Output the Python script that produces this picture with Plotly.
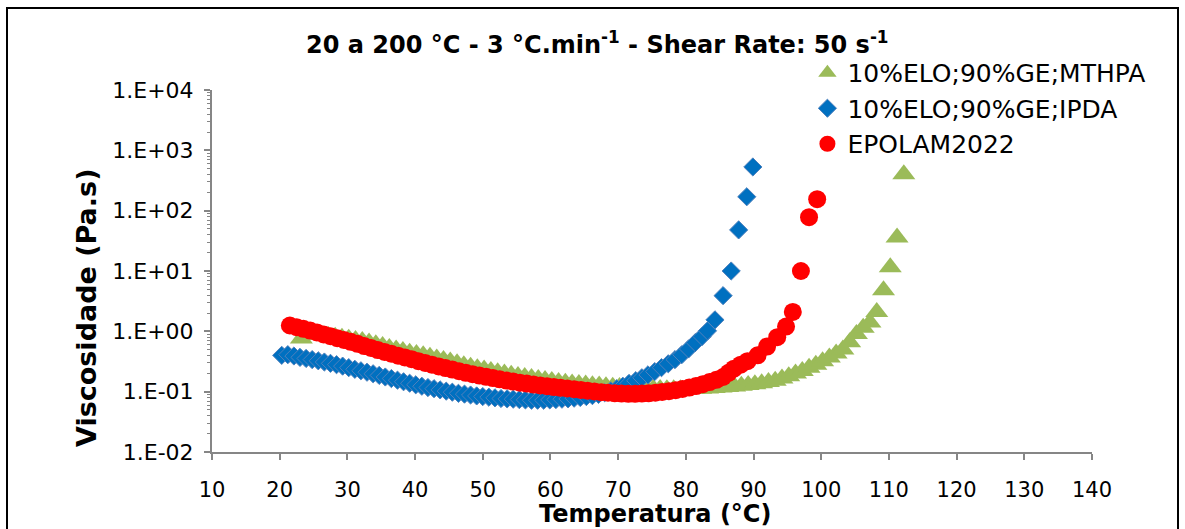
import plotly.graph_objects as go

# ---------------- data ----------------
mthpa_T = [23.2, 23.7, 24.2, 25.2, 26.2, 27.2, 28.2, 29.2, 30.2, 31.2, 32.2, 33.2, 34.2, 35.2,
           36.2, 37.2, 38.2, 39.2, 40.2, 41.2, 42.2, 43.2, 44.2, 45.2, 46.2, 47.2, 48.2, 49.2,
           50.2, 51.2, 52.2, 53.2, 54.2, 55.2, 56.2, 57.2, 58.2, 59.2, 60.2, 61.2, 62.2, 63.2,
           64.2, 65.2, 66.2, 67.2, 68.2, 69.2, 70.2, 71.2, 72.2, 73.2, 74.2, 75.2, 76.2, 77.2,
           78.2, 79.2, 80.2, 81.2, 82.2, 83.2, 84.2, 85.2, 86.2, 87.2, 88.2, 89.2, 90.2, 91.2,
           92.2, 93.2, 94.2, 95.2, 96.2, 97.2, 98.2, 99.2, 100.2, 101.2, 102.2, 103.2, 104.2,
           105.2, 106.2, 107.2, 108.2, 109.2, 110.2, 111.2, 112.2]
mthpa_V = [0.76, 0.88, 0.93, 0.90, 0.87, 0.84, 0.81, 0.78, 0.75, 0.72, 0.69, 0.65, 0.61, 0.57,
           0.53, 0.50, 0.47, 0.44, 0.42, 0.40, 0.38, 0.355, 0.335, 0.315, 0.295, 0.275, 0.26, 0.245,
           0.232, 0.22, 0.21, 0.20, 0.19, 0.182, 0.175, 0.168, 0.162, 0.156, 0.15, 0.145, 0.141, 0.137,
           0.134, 0.131, 0.128, 0.126, 0.123, 0.121, 0.119, 0.117, 0.115, 0.114, 0.113, 0.112, 0.111, 0.110,
           0.110, 0.110, 0.111, 0.111, 0.112, 0.113, 0.115, 0.117, 0.119, 0.122, 0.125, 0.129, 0.133, 0.138,
           0.144, 0.152, 0.165, 0.18, 0.20, 0.22, 0.25, 0.28, 0.32, 0.37, 0.43, 0.50, 0.66,
           0.90, 1.15, 1.4, 2.1, 4.8, 11.5, 36, 400]

ipda_T = [20.3, 21.2, 22.1, 23.0, 23.9, 24.8, 25.7, 26.6, 27.5, 28.4, 29.3, 30.2, 31.1, 32.0,
          32.9, 33.8, 34.7, 35.6, 36.5, 37.4, 38.3, 39.2, 40.1, 41.0, 41.9, 42.8, 43.7, 44.6,
          45.5, 46.4, 47.3, 48.2, 49.1, 50.0, 50.9, 51.8, 52.7, 53.6, 54.5, 55.4, 56.3, 57.2,
          58.1, 59.0, 59.9, 60.8, 61.7, 62.6, 63.5, 64.4, 65.3, 66.2, 67.1, 68.0, 68.9, 69.8,
          70.7, 71.6, 72.6, 73.5, 74.4, 75.4, 76.4, 77.4, 78.4, 79.4, 80.4, 81.4, 82.4, 83.2,
          84.3, 85.5, 86.7, 87.8, 89.0, 89.9]
ipda_V = [0.40, 0.41, 0.39, 0.37, 0.355, 0.34, 0.325, 0.31, 0.295, 0.28, 0.265, 0.25, 0.235, 0.222,
          0.21, 0.198, 0.186, 0.175, 0.165, 0.155, 0.146, 0.138, 0.130, 0.123, 0.117, 0.112, 0.107, 0.102,
          0.098, 0.094, 0.091, 0.088, 0.085, 0.083, 0.081, 0.079, 0.077, 0.076, 0.075, 0.074, 0.073, 0.072,
          0.072, 0.072, 0.073, 0.074, 0.075, 0.076, 0.078, 0.080, 0.083, 0.086, 0.090, 0.096, 0.103, 0.112,
          0.123, 0.137, 0.152, 0.17, 0.19, 0.215, 0.25, 0.29, 0.34, 0.41, 0.51, 0.65, 0.82, 1.02,
          1.55, 3.9, 10, 48, 170, 530]

epolam_T = [21.5, 22.5, 23.5, 24.5, 25.5, 26.5, 27.5, 28.5, 29.5, 30.5, 31.5, 32.5, 33.5, 34.5,
            35.5, 36.5, 37.5, 38.5, 39.5, 40.5, 41.5, 42.5, 43.5, 44.5, 45.5, 46.5, 47.5, 48.5,
            49.5, 50.5, 51.5, 52.5, 53.5, 54.5, 55.5, 56.5, 57.5, 58.5, 59.5, 60.5, 61.5, 62.5,
            63.5, 64.5, 65.5, 66.5, 67.5, 68.5, 69.5, 70.5, 71.5, 72.5, 73.5, 74.5, 75.5, 76.5,
            77.5, 78.5, 79.5, 80.5, 81.5, 82.5, 83.5, 84.5, 85.5, 86.3, 87.1, 88.1, 89.1, 90.6,
            92.0, 93.5, 94.8, 95.8, 97.0, 98.2, 99.4]
epolam_V = [1.25, 1.17, 1.10, 1.03, 0.96, 0.89, 0.83, 0.77, 0.72, 0.67, 0.62, 0.57, 0.53, 0.49,
            0.455, 0.425, 0.395, 0.37, 0.345, 0.32, 0.30, 0.28, 0.262, 0.246, 0.232, 0.218, 0.205, 0.195,
            0.185, 0.176, 0.168, 0.16, 0.153, 0.147, 0.141, 0.136, 0.131, 0.127, 0.123, 0.119, 0.116, 0.113,
            0.110, 0.107, 0.104, 0.101, 0.098, 0.096, 0.094, 0.093, 0.092, 0.092, 0.093, 0.094, 0.096, 0.099,
            0.102, 0.106, 0.111, 0.117, 0.124, 0.133, 0.144, 0.157, 0.175, 0.205, 0.24, 0.28, 0.32, 0.40,
            0.56, 0.80, 1.2, 2.1, 10, 78, 155]

y_tickvals = [1e-2, 1e-1, 1e0, 1e1, 1e2, 1e3, 1e4]
y_ticktext = ["1.E-02", "1.E-01", "1.E+00", "1.E+01", "1.E+02", "1.E+03", "1.E+04"]
x_tickvals = [10, 20, 30, 40, 50, 60, 70, 80, 90, 100, 110, 120, 130, 140]

FONT = "DejaVu Sans"
AXIS_GRAY = "#868686"

fig = go.Figure()
fig.add_trace(go.Scatter(
    x=mthpa_T, y=mthpa_V, mode="markers", name="10%ELO;90%GE;MTHPA",
    marker=dict(symbol="triangle-up", size=20, color="#9BBB59", line=dict(width=0))))
fig.add_trace(go.Scatter(
    x=ipda_T, y=ipda_V, mode="markers", name="10%ELO;90%GE;IPDA",
    marker=dict(symbol="diamond", size=14, color="#0070C0", line=dict(width=1, color="#4F81BD"))))
fig.add_trace(go.Scatter(
    x=epolam_T, y=epolam_V, mode="markers", name="EPOLAM2022",
    marker=dict(symbol="circle", size=18, color="#FF0000", line=dict(width=0))))

fig.update_layout(
    width=1185, height=529,
    margin=dict(l=212, r=93, t=90, b=77),
    paper_bgcolor="white", plot_bgcolor="white",
    font=dict(family=FONT, color="black"),
    title=dict(text="20 a 200 °C - 3 °C.min<sup>-1</sup> - Shear Rate: 50 s<sup>-1</sup>",
               x=0.504, xanchor="center", y=0.915, yanchor="middle",
               font=dict(family=FONT, size=24, color="black", weight="bold")),
    showlegend=True,
    legend=dict(x=0.6766, xanchor="left", y=1.1105, yanchor="top",
                font=dict(family=FONT, size=25, color="black"),
                bgcolor="rgba(0,0,0,0)", tracegroupgap=0, itemwidth=30),
    xaxis=dict(range=[10, 140], tickmode="array", tickvals=x_tickvals,
               ticks="outside", ticklen=6, tickcolor=AXIS_GRAY, tickwidth=1.5,
               showline=True, linecolor=AXIS_GRAY, linewidth=2,
               showgrid=False, zeroline=False,
               tickfont=dict(family=FONT, size=21, color="black"),
               ticklabelstandoff=12),
    yaxis=dict(type="log", range=[-2, 4], tickmode="array",
               tickvals=y_tickvals, ticktext=y_ticktext,
               ticks="outside", ticklen=6, tickcolor=AXIS_GRAY, tickwidth=1.5,
               showline=True, linecolor=AXIS_GRAY, linewidth=2,
               showgrid=False, zeroline=False,
               minor=dict(dtick="D1", ticks="outside", ticklen=3,
                          tickcolor=AXIS_GRAY, tickwidth=1, showgrid=False),
               tickfont=dict(family=FONT, size=22, color="black"),
               ticklabelstandoff=6),
)

# axis titles
fig.add_annotation(text="<b>Temperatura (°C)</b>", xref="paper", yref="paper",
                   x=(655 - 212) / 880, y=-(514 - 452) / 362, xanchor="center", yanchor="middle",
                   showarrow=False, font=dict(family=FONT, size=24, color="black"))
fig.add_annotation(text="<b>Viscosidade (Pa.s)</b>", xref="paper", yref="paper",
                   x=-(212 - 86) / 880, y=(452 - 308) / 362, xanchor="center", yanchor="middle",
                   textangle=-90, showarrow=False, font=dict(family=FONT, size=27, color="black"))

# outer chart border
fig.add_shape(type="rect", xref="paper", yref="paper",
              x0=(7 - 212) / 880, x1=(1178 - 212) / 880,
              y0=-(545 - 452) / 362, y1=(452 - 8) / 362,
              line=dict(color="black", width=2), fillcolor="rgba(0,0,0,0)", layer="below")

fig.write_html("out.html", config={"displayModeBar": False},
               post_script="document.body.style.margin='0';")
